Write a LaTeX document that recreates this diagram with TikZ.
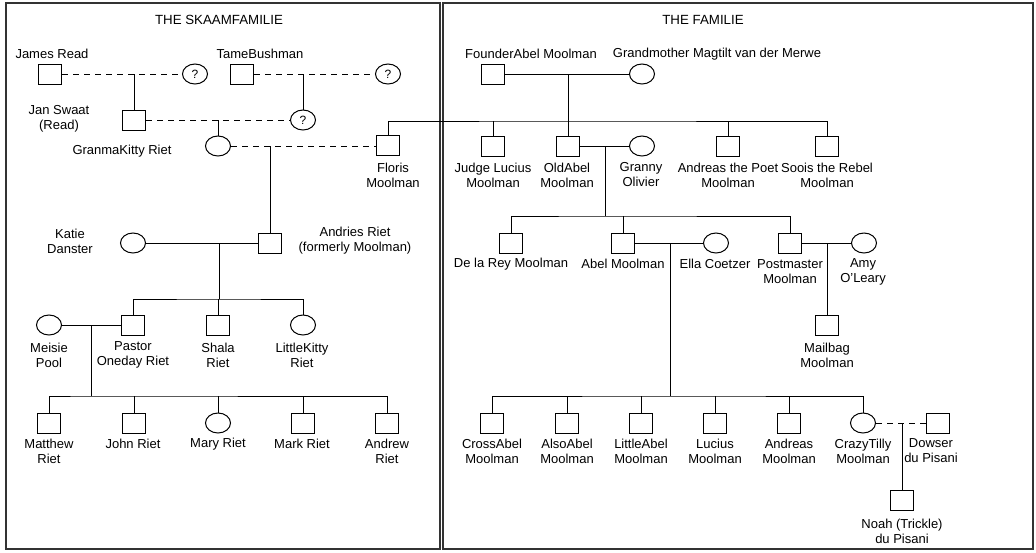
\documentclass[tikz,border=0pt]{standalone}
\usepackage{fontspec}
\setmainfont{Liberation Sans}
\usetikzlibrary{shapes.geometric}
\begin{document}
\begin{tikzpicture}[x=1pt,y=-1pt,line width=1pt,
  sq/.style={draw,rectangle,minimum width=23pt,minimum height=20pt,inner sep=0pt},
  fe/.style={draw,ellipse,minimum width=25pt,minimum height=20pt,inner sep=0pt,font=\fontsize{12}{14}\selectfont},
  lbl/.style={align=center,inner sep=0pt,font=\fontsize{13}{15}\selectfont},
  ttl/.style={inner sep=0pt,font=\fontsize{13.3}{15}\selectfont},
  dsh/.style={dash pattern=on 6pt off 5pt},
  frame/.style={line width=1.1pt,draw=black!80}]
\useasboundingbox (0,0) rectangle (1036,552);
% frames
\draw[frame] (6,3) rectangle (440,549);
\draw[frame] (443,3) rectangle (1033,549);
% titles
\node[ttl] (t1) at (219,20) {THE SKAAMFAMILIE};
\node[ttl] (t2) at (703,20) {THE FAMILIE};

% ---------- left panel ----------
\node[sq] (jread) at (50,74) {};
\node[lbl] (ljread) at (52,54) {James Read};
\node[fe] (q1) at (195,74) {?};
\node[sq] (tame) at (242,74) {};
\node[lbl] (ltame) at (260,54) {TameBushman};
\node[fe] (q2) at (388,74) {?};
\node[sq] (jan) at (134,120) {};
\node[lbl] (ljan) at (59,119) {Jan Swaat\\(Read)};
\node[fe] (q3) at (303,120) {?};
\node[fe] (granma) at (218,146) {};
\node[lbl] (lgranma) at (122,151) {GranmaKitty Riet};
\node[sq] (floris) at (388,145) {};
\node[lbl] (lfloris) at (393,175) {Floris\\Moolman};
\node[fe] (katie) at (133,243) {};
\node[lbl] (lkatie) at (70,241) {Katie\\Danster};
\node[sq] (andries) at (270,243) {};
\node[lbl] (landries) at (355,241) {Andries Riet\\(formerly Moolman)};
\node[fe] (meisie) at (49,325) {};
\node[lbl] (lmeisie) at (49,355) {Meisie\\Pool};
\node[sq] (pastor) at (133,325) {};
\node[lbl] (lpastor) at (133,355) {Pastor\\Oneday Riet};
\node[sq] (shala) at (218,325) {};
\node[lbl] (lshala) at (218,355) {Shala\\Riet};
\node[fe] (lkitty) at (303,325) {};
\node[lbl] (llkitty) at (302,355) {LittleKitty\\Riet};
\node[sq] (matthew) at (49,423) {};
\node[lbl] (lmatthew) at (49,451) {Matthew\\Riet};
\node[sq] (john) at (134,423) {};
\node[lbl] (ljohn) at (133,444) {John Riet};
\node[fe] (mary) at (218,423) {};
\node[lbl] (lmary) at (218,444) {Mary Riet};
\node[sq] (mark) at (303,423) {};
\node[lbl] (lmark) at (302,444) {Mark Riet};
\node[sq] (andrew) at (387,423) {};
\node[lbl] (landrew) at (387,451) {Andrew\\Riet};

\draw[dsh] (jread) -- (q1);
\draw (jan.north) -- (jan.north |- jread);
\draw[dsh] (tame) -- (q2);
\draw (q3.north) -- (q3.north |- tame);
\draw[dsh] (jan) -- (q3);
\draw (granma.north) -- (granma.north |- jan);
\draw[dsh] (granma) -- (floris.west |- granma);
\draw (andries.north) -- (andries.north |- granma);
\draw (katie) -- (andries);
\coordinate (sibA) at (219,299);
\draw (sibA) -- (219,243);
\draw (pastor.north) |- (sibA) -| (lkitty.north);
\draw (shala.north) -- (shala.north |- sibA);
\draw (meisie) -- (pastor);
\coordinate (sibB) at (91,396);
\draw (sibB) -- (91,325);
\draw (matthew.north) |- (sibB) -| (andrew.north);
\draw (john.north) -- (john.north |- sibB);
\draw (mary.north) -- (mary.north |- sibB);
\draw (mark.north) -- (mark.north |- sibB);

% ---------- right panel ----------
\node[sq] (founder) at (493,74) {};
\node[lbl] (lfounder) at (531,54) {FounderAbel Moolman};
\node[fe] (gm) at (642,74) {};
\node[lbl] (lgm) at (717,54) {Grandmother Magtilt van der Merwe};
\node[sq] (judge) at (493,146) {};
\node[lbl] (ljudge) at (493,175) {Judge Lucius\\Moolman};
\node[sq] (oldabel) at (568,146) {};
\node[lbl] (loldabel) at (567,175) {OldAbel\\Moolman};
\node[fe] (granny) at (642,146) {};
\node[lbl] (lgranny) at (641,175) {Granny\\Olivier};
\node[sq] (poet) at (728,146) {};
\node[lbl] (lpoet) at (728,175) {Andreas the Poet\\Moolman};
\node[sq] (soois) at (827,146) {};
\node[lbl] (lsoois) at (827,175) {Soois the Rebel\\Moolman};
\node[sq] (delarey) at (511,243) {};
\node[lbl] (ldelarey) at (511,264) {De la Rey Moolman};
\node[sq] (abel) at (623,243) {};
\node[lbl] (label) at (623,264) {Abel Moolman};
\node[fe] (ella) at (716,243) {};
\node[lbl] (lella) at (715,264) {Ella Coetzer};
\node[sq] (post) at (790,243) {};
\node[lbl] (lpost) at (790,272) {Postmaster\\Moolman};
\node[fe] (amy) at (864,243) {};
\node[lbl] (lamy) at (863,272) {Amy\\O'Leary};
\node[sq] (mailbag) at (827,325) {};
\node[lbl] (lmailbag) at (827,355) {Mailbag\\Moolman};
\node[sq] (cross) at (492,423) {};
\node[lbl] (lcross) at (492,451) {CrossAbel\\Moolman};
\node[sq] (also) at (567,423) {};
\node[lbl] (lalso) at (567,451) {AlsoAbel\\Moolman};
\node[sq] (little) at (641,423) {};
\node[lbl] (llittle) at (641,451) {LittleAbel\\Moolman};
\node[sq] (lucius) at (715,423) {};
\node[lbl] (llucius) at (715,451) {Lucius\\Moolman};
\node[sq] (andreas) at (789,423) {};
\node[lbl] (landreas) at (789,451) {Andreas\\Moolman};
\node[fe] (tilly) at (863,423) {};
\node[lbl] (ltilly) at (863,451) {CrazyTilly\\Moolman};
\node[sq] (dowser) at (938,423) {};
\node[lbl] (ldowser) at (931,451) {Dowser\\du Pisani};
\node[sq] (noah) at (902,500) {};
\node[lbl] (lnoah) at (902,531) {Noah (Trickle)\\du Pisani};

\draw (founder) -- (gm);
\coordinate (sib1) at (568,121);
\draw (oldabel.north) -- (oldabel.north |- founder);
\draw (floris.north) |- (sib1) -| (soois.north);
\draw (judge.north) -- (judge.north |- sib1);
\draw (poet.north) -- (poet.north |- sib1);
\draw (oldabel) -- (granny);
\coordinate (sib2) at (605,216);
\draw (sib2) -- (605,146);
\draw (delarey.north) |- (sib2) -| (post.north);
\draw (abel.north) -- (abel.north |- sib2);
\draw (abel) -- (ella);
\draw (post) -- (amy);
\draw (mailbag.north) -- (mailbag.north |- post);
\coordinate (sib3) at (670,396);
\draw (sib3) -- (670,243);
\draw (cross.north) |- (sib3) -| (tilly.north);
\draw (also.north) -- (also.north |- sib3);
\draw (little.north) -- (little.north |- sib3);
\draw (lucius.north) -- (lucius.north |- sib3);
\draw (andreas.north) -- (andreas.north |- sib3);
\draw[dsh] (tilly) -- (dowser);
\draw (noah.north) -- (noah.north |- tilly);
\end{tikzpicture}
\end{document}
